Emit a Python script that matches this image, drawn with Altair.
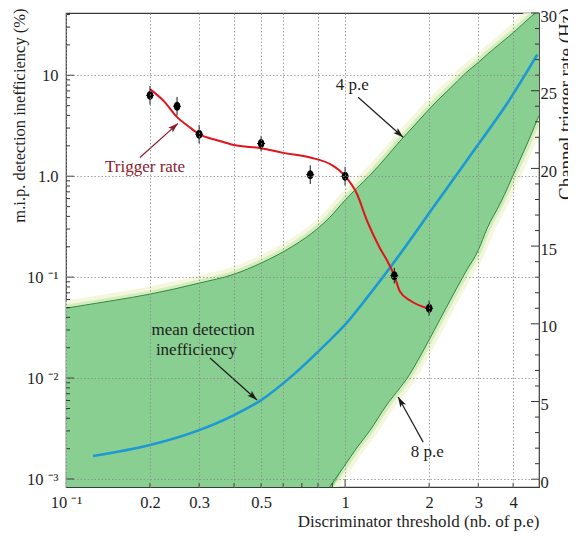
import altair as alt
import pandas as pd

# ---------------- values ----------------
# measured trigger rate (right axis, Hz)
rate_x = [0.2, 0.25, 0.3, 0.5, 0.75, 1.0, 1.5, 2.0]
rate_hz = [24.7, 24.0, 22.2, 21.6, 19.6, 19.5, 13.1, 11.0]
rate_err = [0.6, 0.6, 0.6, 0.5, 0.6, 0.6, 0.5, 0.5]

# red fitted trigger-rate curve (Hz)
fit_x = [0.2, 0.225, 0.25, 0.275, 0.3, 0.35, 0.4, 0.5, 0.6, 0.75, 0.9, 0.95,
         1.0, 1.1, 1.2, 1.33, 1.43, 1.5, 1.57, 1.71, 1.97]
fit_hz = [25.1, 24.3, 23.3, 22.7, 22.2, 21.8, 21.5, 21.3, 21.0, 20.7, 20.2, 19.9,
          19.5, 18.4, 16.6, 14.9, 13.9, 13.1, 12.1, 11.5, 11.0]

# blue mean detection inefficiency (left axis, %)
mean_x = [0.125, 0.2, 0.3, 0.4, 0.5, 0.65, 0.86, 1.0, 1.2, 1.49, 2.07, 2.88, 3.81, 4.88]
mean_ineff = [0.00169, 0.00217, 0.00305, 0.0043, 0.00605, 0.0107, 0.0222, 0.0338,
              0.063, 0.138, 0.493, 1.77, 5.28, 16.0]

# green band: 4 p.e (upper) and 8 p.e (lower) curves (%)
band_x = [0.1, 0.15, 0.2, 0.3, 0.4, 0.5, 0.65, 0.8, 0.88, 1.0, 1.1, 1.23, 1.4, 1.57,
          1.67, 1.8, 1.97, 2.2, 2.38, 2.7, 3.0, 3.23, 3.6, 4.13, 4.6, 4.95]
band_4pe = [0.0493, 0.0591, 0.0679, 0.0873, 0.107, 0.138, 0.203, 0.306, 0.39, 0.58,
            0.76, 1.03, 1.53, 2.22, 2.67, 3.35, 4.41, 6.05, 7.43, 10.5, 13.4, 16.1,
            20.7, 28.5, 37.5, 44.0]
band_8pe = [None, None, None, None, None, None, None, None,
            0.000834, 0.00138, 0.00203, 0.00305, 0.00528, 0.00796, 0.0100, 0.0141,
            0.0222, 0.0393, 0.0591, 0.112, 0.185, 0.306, 0.541, 1.25, 2.45, 4.0]

# annotations (left-axis coordinates)
note_text = ["4 p.e", "mean detection", "inefficiency", "8 p.e"]
note_x = [1.06, 0.31, 0.293, 1.968]
note_y = [7.96, 0.0299, 0.0189, 0.00185]
arrow_x1 = [1.113, 0.328, 1.904]
arrow_y1 = [6.05, 0.0158, 0.00232]
arrow_x2 = [1.614, 0.484, 1.549]
arrow_y2 = [2.43, 0.00605, 0.00649]
arrow_angle = [131.6, 131.8, 331.0]

# "Trigger rate" annotation (right-axis coordinates)
trig_text = ["Trigger rate"]
trig_x, trig_hz = [0.192], [20.1]
trig_x1, trig_hz1, trig_x2, trig_hz2, trig_angle = [0.184], [20.7], [0.252], [22.9], [48.2]

# axis ticks / labels
x_tick_values = [0.1, 0.2, 0.3, 0.4, 0.5, 0.6, 0.8, 1, 2, 3, 4]
x_minor = [0.2, 0.3, 0.4, 0.5, 0.6, 0.7, 0.8, 0.9, 2, 3, 4]
x_major = [1]
yl_values = [0.001, 0.01, 0.1, 1, 10]
yl_minor = [m * d for d in [0.001, 0.01, 0.1, 1, 10] for m in range(2, 10) if m * d < 41]
yr_values = [0, 5, 10, 15, 20, 25, 30]
yr_minor = [v for v in range(1, 30) if v % 5]

# ---------------- layout ----------------
W, H = 473, 474
X_DOM = [0.1, 4.95]
YL_DOM = [0.000834, 41.4]
YR_DOM = [-0.5, 30]
SERIF = "Liberation Serif"
INK = "#1e1e1e"

xs = alt.Scale(type="log", domain=X_DOM, nice=False)
yls = alt.Scale(type="log", domain=YL_DOM, nice=False)
yrs = alt.Scale(type="linear", domain=YR_DOM, nice=False, zero=False)

x_axis = alt.Axis(
    values=x_tick_values,
    labelExpr="datum.value < 0.15 ? '10 ⁻¹' : (abs(datum.value-0.4)<0.01 || abs(datum.value-0.6)<0.01 || abs(datum.value-0.8)<0.01) ? '' : format(datum.value, '~g')",
    ticks=False, domain=False, grid=True, gridDash=[1.5, 2], gridColor="#8c8c8c",
    gridWidth=0.8, labelFont=SERIF, labelFontSize=16.5, labelColor=INK, labelPadding=7,
    labelFlush=False, labelOverlap=False,
    title="Discriminator threshold (nb. of p.e)", titleFont=SERIF, titleFontSize=17,
    titleFontWeight="normal", titleColor=INK, titleAnchor="end", titlePadding=3, zindex=1,
)
yl_axis = alt.Axis(
    values=yl_values,
    labelExpr="datum.value > 5 ? '10' : datum.value > 0.5 ? '1.0' : datum.value > 0.05 ? '10 ⁻¹' : datum.value > 0.005 ? '10 ⁻²' : '10 ⁻³'",
    ticks=False, domain=False, grid=True, gridDash=[1.5, 2], gridColor="#8c8c8c",
    gridWidth=0.8, labelFont=SERIF, labelFontSize=16.5, labelColor=INK, labelPadding=8,
    labelFlush=False, labelOverlap=False,
    title="m.i.p. detection inefficiency (%)", titleFont=SERIF, titleFontSize=16.5,
    titleFontWeight="normal", titleColor=INK, titleAngle=270, titleAlign="right",
    titleBaseline="top", titleX=-55, titleY=-5, zindex=1,
)
yr_axis = alt.Axis(
    orient="right", values=yr_values, ticks=False, domain=False, grid=False,
    labelFont=SERIF, labelFontSize=16.5, labelColor=INK, labelPadding=1, labelOffset=3,
    labelFlush=False, labelOverlap=False,
    title="Channel trigger rate (Hz)", titleFont=SERIF, titleFontSize=19,
    titleFontWeight="normal", titleColor=INK, titleAngle=270, titleAlign="right",
    titleBaseline="top", titleX=17, titleY=-5,
)


def X(f):
    return alt.X(f, type="quantitative", scale=xs, axis=x_axis)


def YL(f):
    return alt.Y(f, type="quantitative", scale=yls, axis=yl_axis)


def YR(f):
    return alt.Y(f, type="quantitative", scale=yrs, axis=yr_axis)


# ---------------- tables ----------------
band = pd.DataFrame({"x": band_x, "up": band_4pe, "lo": band_8pe})
band["lo_fill"] = band["lo"].fillna(YL_DOM[0])
band_lo = band.dropna(subset=["lo"])
mean_df = pd.DataFrame({"x": mean_x, "v": mean_ineff})
pts = pd.DataFrame({"x": rate_x, "hz": rate_hz, "err": rate_err})
pts["lo"] = pts["hz"] - pts["err"]
pts["hi"] = pts["hz"] + pts["err"]
fit = pd.DataFrame({"x": fit_x, "hz": fit_hz})
notes = pd.DataFrame({"t": note_text, "x": note_x, "y": note_y})
arrows = pd.DataFrame({"x1": arrow_x1, "y1": arrow_y1, "x2": arrow_x2, "y2": arrow_y2, "a": arrow_angle})
trig = pd.DataFrame({"t": trig_text, "x": trig_x, "hz": trig_hz})
trig_arrow = pd.DataFrame({"x1": trig_x1, "y1": trig_hz1, "x2": trig_x2, "y2": trig_hz2, "a": trig_angle})

ARROWHEAD = "M0,0L-0.32,1L0,0.78L0.32,1Z"


def band_line(df, field, color, width, opacity=1.0):
    return alt.Chart(df).mark_line(color=color, strokeWidth=width, opacity=opacity, clip=True,
                                   interpolate="monotone").encode(x=X("x"), y=YL(field))


# ---------------- left (inefficiency) layers ----------------
glow_up_wide = band_line(band, "up", "#f1f6d6", 15, 0.85)
glow_lo_wide = band_line(band_lo, "lo", "#f1f6d6", 15, 0.85)
glow_up = band_line(band, "up", "#cfe9bb", 7, 0.85)
glow_lo = band_line(band_lo, "lo", "#cfe9bb", 7, 0.85)
fill = alt.Chart(band).mark_area(color="#88cf91", opacity=1, clip=True, interpolate="monotone").encode(
    x=X("x"), y=YL("up"), y2="lo_fill")
edge_up = band_line(band, "up", "#2f8a3a", 1)
edge_lo = band_line(band_lo, "lo", "#2f8a3a", 1)
mean_line = alt.Chart(mean_df).mark_line(color="#1b98d5", strokeWidth=2.6, clip=True,
                                          interpolate="monotone").encode(x=X("x"), y=YL("v"))
note_marks = alt.Chart(notes).mark_text(font=SERIF, fontSize=17, color=INK, align="center",
                                         baseline="middle").encode(x=X("x"), y=YL("y"), text="t:N")
arrow_lines = alt.Chart(arrows).mark_rule(color=INK, strokeWidth=1.2).encode(
    x=X("x1"), y=YL("y1"), x2="x2", y2="y2")
arrow_heads = alt.Chart(arrows).mark_point(shape=ARROWHEAD, size=420, filled=True, color=INK,
                                            opacity=1).encode(x=X("x2"), y=YL("y2"),
                                                              angle=alt.Angle("a:Q", scale=None))

lt_major = alt.Chart(pd.DataFrame({"v": yl_values})).mark_rule(color="#333").encode(
    y=YL("v"), x=alt.value(0), x2=alt.value(8))
lt_minor = alt.Chart(pd.DataFrame({"v": yl_minor})).mark_rule(color="#333").encode(
    y=YL("v"), x=alt.value(0), x2=alt.value(4))
bt_major = alt.Chart(pd.DataFrame({"v": x_major})).mark_rule(color="#333").encode(
    x=X("v"), y=alt.value(H), y2=alt.value(H - 8))
bt_minor = alt.Chart(pd.DataFrame({"v": x_minor})).mark_rule(color="#333").encode(
    x=X("v"), y=alt.value(H), y2=alt.value(H - 4))

left = alt.layer(glow_up_wide, glow_lo_wide, glow_up, glow_lo, fill, edge_up, edge_lo, mean_line,
                 note_marks, arrow_lines, arrow_heads, lt_major, lt_minor, bt_major, bt_minor)

# ---------------- right (trigger rate) layers ----------------
fit_line = alt.Chart(fit).mark_line(color="#e3131c", strokeWidth=2, interpolate="monotone").encode(
    x=X("x"), y=YR("hz"))
err_v = alt.Chart(pts).mark_rule(color="#111", strokeWidth=1).encode(x=X("x"), y=YR("lo"), y2="hi")
err_h = alt.Chart(pts).mark_point(shape="M-1,0L1,0", size=64, color="#111", strokeWidth=1,
                                   opacity=1).encode(x=X("x"), y=YR("hz"))
dots = alt.Chart(pts).mark_point(
    shape="M0,-1C0.55,-1 0.72,-0.5 0.72,0C0.72,0.5 0.55,1 0,1C-0.55,1 -0.72,0.5 -0.72,0C-0.72,-0.5 -0.55,-1 0,-1Z",
    size=80, filled=True, color="#000", opacity=1).encode(x=X("x"), y=YR("hz"))
trig_note = alt.Chart(trig).mark_text(font=SERIF, fontSize=17, color="#8c1a2c", align="center",
                                       baseline="middle").encode(x=X("x"), y=YR("hz"), text="t:N")
trig_line = alt.Chart(trig_arrow).mark_rule(color="#8c1a2c", strokeWidth=1.2).encode(
    x=X("x1"), y=YR("y1"), x2="x2", y2="y2")
trig_head = alt.Chart(trig_arrow).mark_point(shape=ARROWHEAD, size=420, filled=True, color="#8c1a2c",
                                              opacity=1).encode(x=X("x2"), y=YR("y2"),
                                                                angle=alt.Angle("a:Q", scale=None))
rt_major = alt.Chart(pd.DataFrame({"v": yr_values})).mark_rule(color="#333").encode(
    y=YR("v"), x=alt.value(W), x2=alt.value(W - 8))
rt_minor = alt.Chart(pd.DataFrame({"v": yr_minor})).mark_rule(color="#333").encode(
    y=YR("v"), x=alt.value(W), x2=alt.value(W - 4))

right = alt.layer(fit_line, err_v, err_h, dots, trig_note, trig_line, trig_head, rt_major, rt_minor)

chart = alt.layer(left, right).resolve_scale(y="independent").properties(
    width=W, height=H,
    autosize=alt.AutoSizeParams(type="none"),
    padding={"left": 58, "top": 5, "right": 29, "bottom": 49},
    background="white",
).configure_view(stroke="#3a3a3a", strokeWidth=1.2)

chart.save("out.html", embed_options={"renderer": "svg", "actions": False})
